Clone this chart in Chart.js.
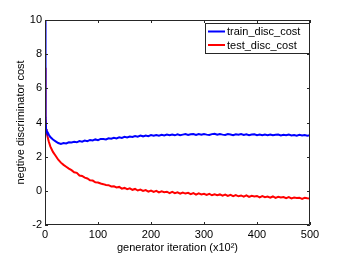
<!DOCTYPE html>
<html lang="en">
<head>
    <meta charset="UTF-8">
    <title>disc cost</title>
    <style>
        html, body { margin: 0; padding: 0; background: #fff; }
        #container { width: 343px; height: 257px; }
    </style>
</head>
<body>
<div id="container">
    <canvas id="canvas" width="343" height="257"></canvas>
</div>

<script src="https://cdn.jsdelivr.net/npm/chart.js@4.4.1/dist/chart.umd.min.js"></script>
<script>
    // generator iteration (x10^2)
    const ITERS = [
        0, 1, 2, 3, 5, 7,
        10, 15, 20, 25, 30, 35, 40, 45, 50, 55, 60, 65, 70, 75, 80, 85, 90, 95,
        100, 105, 110, 115, 120, 125, 130, 135, 140, 145, 150, 155, 160, 165, 170, 175, 180, 185, 190, 195,
        200, 205, 210, 215, 220, 225, 230, 235, 240, 245, 250, 255, 260, 265, 270, 275, 280, 285, 290, 295,
        300, 305, 310, 315, 320, 325, 330, 335, 340, 345, 350, 355, 360, 365, 370, 375, 380, 385, 390, 395,
        400, 405, 410, 415, 420, 425, 430, 435, 440, 445, 450, 455, 460, 465, 470, 475, 480, 485, 490, 495,
        500
    ];
    const TRAIN_COST = [
        10, 4.3, 3.6, 3.5, 3.42, 3.3,
        3.15, 3.0, 2.9, 2.8, 2.75, 2.8, 2.77, 2.84, 2.83, 2.87, 2.84, 2.91, 2.88, 2.94, 2.91, 2.98, 2.95, 3.01,
        2.97, 3.04, 3.03, 3.01, 3.08, 3.05, 3.11, 3.07, 3.13, 3.1, 3.16, 3.12, 3.18, 3.15, 3.21, 3.17, 3.23, 3.19, 3.24, 3.2,
        3.26, 3.22, 3.27, 3.23, 3.28, 3.24, 3.29, 3.25, 3.3, 3.25, 3.31, 3.26, 3.29, 3.32, 3.27, 3.31, 3.33, 3.27, 3.32, 3.28,
        3.33, 3.29, 3.27, 3.32, 3.34, 3.28, 3.32, 3.29, 3.27, 3.32, 3.3, 3.26, 3.31, 3.28, 3.32, 3.27, 3.31, 3.26, 3.3, 3.31,
        3.26, 3.3, 3.25, 3.29, 3.26, 3.3, 3.25, 3.28, 3.29, 3.24, 3.28, 3.25, 3.29, 3.24, 3.27, 3.23, 3.28, 3.24, 3.27, 3.23,
        3.25
    ];
    const TEST_COST = [
        7.2, 4.4, 3.6, 3.4, 3.15, 2.9,
        2.6, 2.28, 2.05, 1.82, 1.65, 1.52, 1.41, 1.3, 1.21, 1.09, 1.05, 0.9, 0.87, 0.77, 0.72, 0.62, 0.6, 0.5,
        0.49, 0.43, 0.39, 0.34, 0.33, 0.26, 0.27, 0.2, 0.23, 0.13, 0.17, 0.1, 0.15, 0.06, 0.11, 0.02, 0.07, -0.01, 0.04, -0.05,
        0.02, -0.06, 0.0, -0.09, -0.03, -0.08, -0.05, -0.13, -0.06, -0.14, -0.09, -0.17, -0.1, -0.16, -0.12, -0.2, -0.13, -0.22, -0.15, -0.21,
        -0.17, -0.24, -0.18, -0.26, -0.2, -0.25, -0.21, -0.28, -0.22, -0.3, -0.24, -0.31, -0.25, -0.32, -0.27, -0.34, -0.27, -0.36, -0.29, -0.33,
        -0.3, -0.38, -0.31, -0.37, -0.33, -0.4, -0.33, -0.41, -0.35, -0.39, -0.36, -0.43, -0.37, -0.44, -0.39, -0.42, -0.4, -0.47, -0.41, -0.44,
        -0.45
    ];
    const X_TICKS = [0, 100, 200, 300, 400, 500];
    const Y_TICKS = [-2, 0, 2, 4, 6, 8, 10];

    const FONT = "'Liberation Sans', Arial, Helvetica, sans-serif";

    const toPoints = function(vals) {
        return vals.map((v, i) => ({x: ITERS[i], y: v}));
    }

    // matlab style frame: box on, ticks pointing inside, legend in the top right corner
    const matlabFrame = {
        id: "matlabFrame",
        afterDraw(chart) {
            const {ctx, chartArea: a, scales} = chart;
            ctx.save();
            ctx.strokeStyle = "#262626";
            ctx.lineWidth = 1;
            ctx.beginPath();
            ctx.rect(Math.round(a.left) + 0.5, Math.round(a.top) + 0.5,
                Math.round(a.right - a.left) - 1, Math.round(a.bottom - a.top) - 1);
            ctx.stroke();

            const tl = 3;
            ctx.beginPath();
            X_TICKS.forEach(t => {
                const px = Math.round(scales.x.getPixelForValue(t)) + 0.5;
                ctx.moveTo(px, a.bottom); ctx.lineTo(px, a.bottom - tl);
                ctx.moveTo(px, a.top); ctx.lineTo(px, a.top + tl);
            });
            Y_TICKS.forEach(t => {
                const py = Math.round(scales.y.getPixelForValue(t)) + 0.5;
                ctx.moveTo(a.left, py); ctx.lineTo(a.left + tl, py);
                ctx.moveTo(a.right, py); ctx.lineTo(a.right - tl, py);
            });
            ctx.stroke();

            // legend box
            const bx = 205.5, by = 23.5, bw = 104, bh = 30;
            ctx.fillStyle = "#fff";
            ctx.fillRect(bx, by, bw, bh);
            ctx.strokeStyle = "#262626";
            ctx.strokeRect(bx, by, bw, bh);
            ctx.font = "11px " + FONT;
            ctx.textBaseline = "middle";
            ctx.textAlign = "left";
            chart.data.datasets.forEach((ds, i) => {
                const y = 31.5 + i * 13.5;
                ctx.strokeStyle = ds.borderColor;
                ctx.lineWidth = 2;
                ctx.beginPath();
                ctx.moveTo(208, y); ctx.lineTo(225, y);
                ctx.stroke();
                ctx.fillStyle = "#000";
                ctx.fillText(ds.label, 227, y + 0.5);
            });
            ctx.restore();
        }
    }

    const config = {
        type: "line",
        data: {
            datasets: [
                {
                    label: "train_disc_cost",
                    data: toPoints(TRAIN_COST),
                    borderColor: "rgb(0, 0, 255)",
                    borderWidth: 2,
                    pointRadius: 0,
                    tension: 0
                },
                {
                    label: "test_disc_cost",
                    data: toPoints(TEST_COST),
                    borderColor: "rgb(255, 0, 0)",
                    borderWidth: 2,
                    pointRadius: 0,
                    tension: 0
                }
            ]
        },
        options: {
            responsive: false,
            animation: false,
            layout: {padding: {top: 20, right: 33, left: 0, bottom: 0}},
            plugins: {
                legend: {display: false},
                tooltip: {enabled: false}
            },
            scales: {
                x: {
                    type: "linear",
                    min: 0,
                    max: 500,
                    afterBuildTicks: s => { s.ticks = X_TICKS.map(v => ({value: v})); },
                    afterFit: s => { s.height = 32; },
                    grid: {display: false, drawTicks: false},
                    border: {display: false},
                    ticks: {
                        padding: 3,
                        color: "#000",
                        maxRotation: 0,
                        font: {family: FONT, size: 11}
                    },
                    title: {
                        display: true,
                        text: "generator iteration (x10²)",
                        color: "#000",
                        padding: {top: 0, bottom: 2},
                        font: {family: FONT, size: 11}
                    }
                },
                y: {
                    min: -2,
                    max: 10,
                    afterBuildTicks: s => { s.ticks = Y_TICKS.map(v => ({value: v})); },
                    afterFit: s => { s.width = 45; },
                    grid: {display: false, drawTicks: false},
                    border: {display: false},
                    ticks: {
                        padding: 3,
                        color: "#000",
                        font: {family: FONT, size: 11}
                    },
                    title: {
                        display: true,
                        text: "negtive discriminator cost",
                        color: "#000",
                        padding: {top: 14, bottom: 0},
                        font: {family: FONT, size: 11}
                    }
                }
            }
        },
        plugins: [matlabFrame]
    }

    new Chart(document.getElementById("canvas").getContext("2d"), config);
</script>
</body>
</html>
